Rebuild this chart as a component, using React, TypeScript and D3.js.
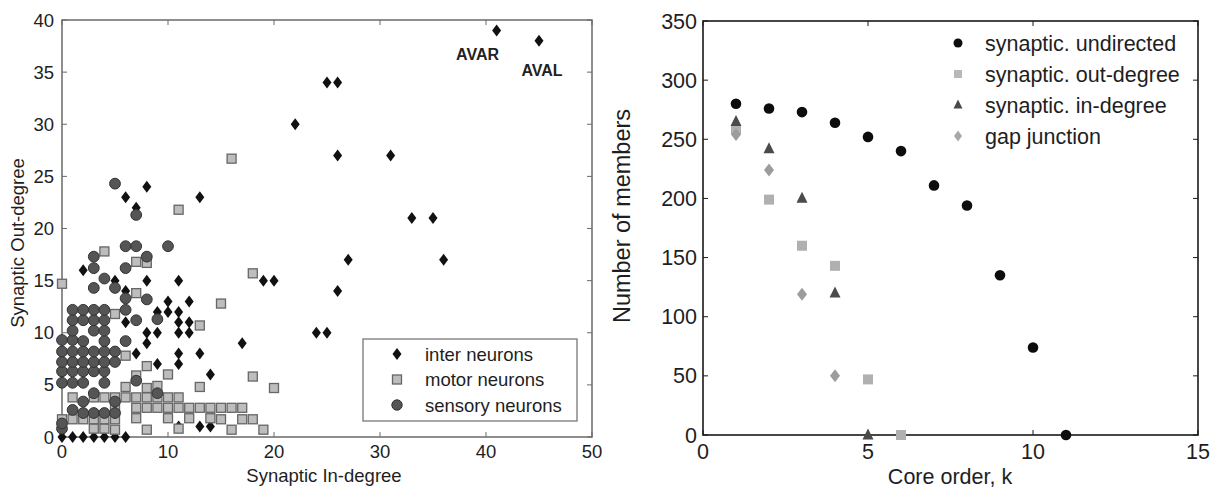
import React from "react";
import * as d3 from "d3";

// ---------- Left panel data: [in-degree, out-degree] ----------
const interNeurons: [number, number][] = [
  [0, 0], [1, 0], [2, 0], [3, 0], [4, 0], [5, 0], [6, 0], [0, 1],
  [2, 16], [5, 15], [8, 15], [11, 15], [6, 14], [10, 13], [12, 13],
  [9, 12], [10, 12], [11, 12], [6, 11], [11, 11], [12, 11],
  [8, 10], [9, 10], [11, 10], [12, 10], [8, 9], [2, 9], [7, 8], [5, 8], [11, 8], [13, 8],
  [9, 7], [11, 7], [14, 6], [11, 1], [13, 1], [14, 1],
  [6, 23], [7, 22], [8, 24], [13, 23],
  [17, 9], [19, 15], [20, 15], [22, 30], [24, 10], [25, 10], [25, 34], [26, 34],
  [26, 27], [26, 14], [27, 17], [31, 27], [33, 21], [35, 21], [36, 17], [41, 39], [45, 38],
];

const motorNeurons: [number, number][] = [
  [0, 14.7], [0, 1.7], [1, 3.8], [1, 1.7], [2, 1.7], [3, 3.8], [3, 1.7], [3, 0.8],
  [4, 17.8], [4, 3.8], [4, 1.7], [4, 0.8], [5, 11.8], [5, 3.8], [5, 2.8], [5, 1.7], [5, 0.7],
  [6, 7.8], [6, 4.8], [6, 3.8], [7, 16.8], [7, 13.8], [7, 5.9], [7, 3.8], [7, 2.8], [7, 1.8],
  [8, 16.7], [8, 6.8], [8, 4.7], [8, 3.8], [8, 2.8], [8, 0.7],
  [9, 4.9], [9, 3.8], [9, 2.8], [10, 6.0], [10, 3.8], [10, 2.8], [10, 1.8],
  [11, 21.8], [11, 3.8], [11, 2.8], [11, 0.8], [12, 2.8], [12, 1.8],
  [13, 10.7], [13, 4.8], [13, 2.8], [14, 2.8], [14, 1.8],
  [15, 12.8], [15, 2.8], [15, 1.7], [16, 26.7], [16, 2.8], [16, 0.7],
  [17, 2.8], [17, 1.7], [18, 15.7], [18, 5.8], [18, 1.7], [19, 0.7], [20, 4.7],
];

const sensoryNeurons: [number, number][] = [
  [0, 0.8], [0, 1.3], [0, 5.2], [0, 6.3], [0, 7.2], [0, 8.2], [0, 9.3],
  [1, 2.6], [1, 5.2], [1, 6.3], [1, 7.2], [1, 8.2], [1, 9.3], [1, 10.2], [1, 11.2], [1, 12.2],
  [2, 2.3], [2, 3.4], [2, 5.2], [2, 6.3], [2, 7.2], [2, 8.2], [2, 9.2], [2, 11.2], [2, 12.2],
  [3, 2.3], [3, 4.2], [3, 6.3], [3, 7.2], [3, 8.2], [3, 10.2], [3, 11.2], [3, 12.2],
  [3, 14.3], [3, 16.2], [3, 17.3],
  [4, 2.3], [4, 5.2], [4, 6.3], [4, 7.2], [4, 8.2], [4, 9.2], [4, 10.2], [4, 11.2], [4, 12.2], [4, 15.2],
  [5, 2.3], [5, 3.4], [5, 7.2], [5, 8.2], [5, 14.3], [5, 24.3],
  [6, 9.2], [6, 12.2], [6, 13.3], [6, 16.2], [6, 18.3],
  [7, 5.4], [7, 11.2], [7, 18.3], [7, 21.3],
  [8, 13.2], [8, 17.3], [9, 4.2], [9, 11.3], [10, 18.3],
];

const namedNeurons: { name: string; x: number; y: number }[] = [
  { name: "AVAR", x: 41, y: 39 },
  { name: "AVAL", x: 45, y: 38 },
];

const leftXTicks = [0, 10, 20, 30, 40, 50];
const leftYTicks = [0, 5, 10, 15, 20, 25, 30, 35, 40];
const leftLegend = ["inter neurons", "motor neurons", "sensory neurons"];

// ---------- Right panel data: members per core order k ----------
const undirectedK = [1, 2, 3, 4, 5, 6, 7, 8, 9, 10, 11];
const undirectedN = [280, 276, 273, 264, 252, 240, 211, 194, 135, 74, 0];
const outDegK = [1, 2, 3, 4, 5, 6];
const outDegN = [258, 199, 160, 143, 47, 0];
const inDegK = [1, 2, 3, 4, 5];
const inDegN = [265, 242, 200, 120, 0];
const gapK = [1, 2, 3, 4];
const gapN = [254, 224, 119, 50];

const rightXTicks = [0, 5, 10, 15];
const rightYTicks = [0, 50, 100, 150, 200, 250, 300, 350];
const rightLegend = [
  "synaptic. undirected",
  "synaptic. out-degree",
  "synaptic. in-degree",
  "gap junction",
];

const FONT = "'Liberation Sans', Arial, Helvetica, sans-serif";

const diamondPath = (cx: number, cy: number, w: number, h: number) =>
  `M${cx},${cy - h / 2}L${cx + w / 2},${cy}L${cx},${cy + h / 2}L${cx - w / 2},${cy}Z`;
const trianglePath = (cx: number, cy: number, s: number) =>
  `M${cx},${cy - s * 0.6}L${cx + s / 2},${cy + s * 0.4}L${cx - s / 2},${cy + s * 0.4}Z`;

export default function App() {
  // left scales
  const xL = d3.scaleLinear().domain([0, 50]).range([62, 592]);
  const yL = d3.scaleLinear().domain([0, 40]).range([437, 20]);
  // right scales
  const xR = d3.scaleLinear().domain([0, 15]).range([703, 1198]);
  const yR = d3.scaleLinear().domain([0, 350]).range([435, 21]);

  const tl = 5;
  const leftStroke = "#6a6a6a";
  const rightStroke = "#1a1a1a";
  const txt = "#1e1e1e";

  return (
    <svg
      width={1221}
      height={489}
      style={{ position: "absolute", left: 0, top: 0, background: "#fff" }}
      fontFamily={FONT}
    >
      <rect width={1221} height={489} fill="#fff" />

      {/* ================= LEFT PANEL ================= */}
      <g>
        {leftXTicks.map((t) => (
          <g key={"lxt" + t}>
            <line x1={xL(t)} x2={xL(t)} y1={yL(0)} y2={yL(0) - tl} stroke={leftStroke} />
            <line x1={xL(t)} x2={xL(t)} y1={yL(40)} y2={yL(40) + tl} stroke={leftStroke} />
            <text x={xL(t)} y={yL(0) + 21} fontSize={18.5} textAnchor="middle" fill={txt}>
              {t}
            </text>
          </g>
        ))}
        {leftYTicks.map((t) => (
          <g key={"lyt" + t}>
            <line x1={xL(0)} x2={xL(0) + tl} y1={yL(t)} y2={yL(t)} stroke={leftStroke} />
            <line x1={xL(50)} x2={xL(50) - tl} y1={yL(t)} y2={yL(t)} stroke={leftStroke} />
            <text x={54} y={yL(t) + 6.5} fontSize={18.5} textAnchor="end" fill={txt}>
              {t}
            </text>
          </g>
        ))}
        <rect
          x={xL(0)}
          y={yL(40)}
          width={xL(50) - xL(0)}
          height={yL(0) - yL(40)}
          fill="none"
          stroke={leftStroke}
          strokeWidth={1.5}
        />
        <text x={324} y={482} fontSize={18.5} textAnchor="middle" fill={txt}>
          Synaptic In-degree
        </text>
        <text
          transform={`translate(24,243) rotate(-90)`}
          fontSize={18.5}
          textAnchor="middle"
          fill={txt}
        >
          Synaptic Out-degree
        </text>

        {interNeurons.map(([x, y], i) => (
          <path key={"in" + i} d={diamondPath(xL(x), yL(y), 9, 12)} fill="#111" />
        ))}
        {motorNeurons.map(([x, y], i) => (
          <rect
            key={"mo" + i}
            x={xL(x) - 4.5}
            y={yL(y) - 4.5}
            width={9}
            height={9}
            fill="#bdbdbd"
            stroke="#666"
            strokeWidth={1.3}
          />
        ))}
        {sensoryNeurons.map(([x, y], i) => (
          <circle key={"se" + i} cx={xL(x)} cy={yL(y)} r={5.4} fill="#555" stroke="#333" strokeWidth={1} />
        ))}
        {namedNeurons.map((n, i) => (
          <text
            key={"nn" + i}
            x={xL(n.x) + (i === 0 ? -19 : 3)}
            y={yL(n.y) + (i === 0 ? 30 : 35)}
            fontSize={16}
            fontWeight={600}
            textAnchor="middle"
            fill="#222"
          >
            {n.name}
          </text>
        ))}

        <rect x={363} y={339} width={214} height={82} fill="#fff" stroke="#777" strokeWidth={1.3} />
        {leftLegend.map((label, i) => {
          const cy = 354 + i * 25.5;
          return (
            <g key={"ll" + i}>
              {i === 0 && <path d={diamondPath(397, cy, 9, 12)} fill="#111" />}
              {i === 1 && (
                <rect x={392.5} y={cy - 4.5} width={9} height={9} fill="#bdbdbd" stroke="#666" strokeWidth={1.3} />
              )}
              {i === 2 && <circle cx={397} cy={cy} r={5.2} fill="#555" stroke="#333" />}
              <text x={425} y={cy + 6.5} fontSize={18.5} fill={txt}>
                {label}
              </text>
            </g>
          );
        })}
      </g>

      {/* ================= RIGHT PANEL ================= */}
      <g>
        {rightXTicks.map((t) => (
          <g key={"rxt" + t}>
            <line x1={xR(t)} x2={xR(t)} y1={yR(0)} y2={yR(0) - tl} stroke={rightStroke} />
            <line x1={xR(t)} x2={xR(t)} y1={yR(350)} y2={yR(350) + tl} stroke={rightStroke} />
            <text x={xR(t)} y={yR(0) + 24} fontSize={21.5} textAnchor="middle" fill={txt}>
              {t}
            </text>
          </g>
        ))}
        {rightYTicks.map((t) => (
          <g key={"ryt" + t}>
            <line x1={xR(0)} x2={xR(0) + tl} y1={yR(t)} y2={yR(t)} stroke={rightStroke} />
            <line x1={xR(15)} x2={xR(15) - tl} y1={yR(t)} y2={yR(t)} stroke={rightStroke} />
            <text x={697} y={yR(t) + 7.5} fontSize={21.5} textAnchor="end" fill={txt}>
              {t}
            </text>
          </g>
        ))}
        <rect
          x={xR(0)}
          y={yR(350)}
          width={xR(15) - xR(0)}
          height={yR(0) - yR(350)}
          fill="none"
          stroke={rightStroke}
          strokeWidth={1.6}
        />
        <text x={950} y={484} fontSize={21.5} textAnchor="middle" fill={txt}>
          Core order, k
        </text>
        <text
          transform={`translate(630,216) rotate(-90)`}
          fontSize={23.5}
          textAnchor="middle"
          fill={txt}
        >
          Number of members
        </text>

        {undirectedK.map((k, i) => (
          <circle key={"u" + i} cx={xR(k)} cy={yR(undirectedN[i])} r={5.3} fill="#0d0d0d" />
        ))}
        {outDegK.map((k, i) => (
          <rect key={"o" + i} x={xR(k) - 5} y={yR(outDegN[i]) - 5} width={10} height={10} fill="#b0b0b0" />
        ))}
        {inDegK.map((k, i) => (
          <path key={"i" + i} d={trianglePath(xR(k), yR(inDegN[i]), 11)} fill="#4a4a4a" />
        ))}
        {gapK.map((k, i) => (
          <path key={"g" + i} d={diamondPath(xR(k), yR(gapN[i]), 10, 13)} fill="#9c9c9c" />
        ))}

        {rightLegend.map((label, i) => {
          const cy = 43 + i * 31;
          return (
            <g key={"rl" + i}>
              {i === 0 && <circle cx={958} cy={cy} r={4.5} fill="#0d0d0d" />}
              {i === 1 && <rect x={954} y={cy - 4} width={8} height={8} fill="#b8b8b8" />}
              {i === 2 && <path d={trianglePath(958, cy, 9)} fill="#4a4a4a" />}
              {i === 3 && <path d={diamondPath(958, cy, 8, 11)} fill="#a8a8a8" />}
              <text x={985} y={cy + 7.5} fontSize={21.5} fill={txt}>
                {label}
              </text>
            </g>
          );
        })}
      </g>
    </svg>
  );
}
